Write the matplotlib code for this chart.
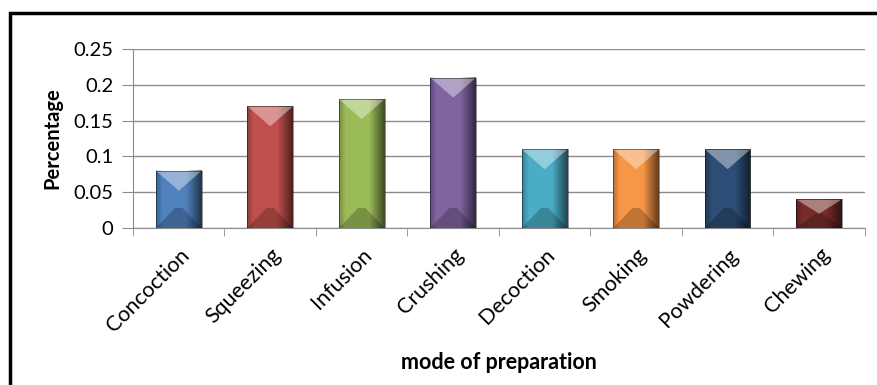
import numpy as np
import matplotlib.pyplot as plt
from matplotlib.patches import Polygon, Rectangle
from matplotlib.ticker import FixedLocator, NullFormatter

plt.rcParams['font.family'] = ['Lato', 'DejaVu Sans']

# data
methods = ['Concoction', 'Squeezing', 'Infusion', 'Crushing',
           'Decoction', 'Smoking', 'Powdering', 'Chewing']
share = [0.08, 0.17, 0.18, 0.21, 0.11, 0.11, 0.11, 0.04]
colours = ['#4F81BD', '#C0504D', '#9BBB59', '#8064A2',
           '#4BACC6', '#F79646', '#2C4D75', '#772C2A']
yticks = [0, 0.05, 0.1, 0.15, 0.2, 0.25]
ytick_labels = ['0', '0.05', '0.1', '0.15', '0.2', '0.25']

fig = plt.figure(figsize=(8.78, 3.85), dpi=100)
ax = fig.add_axes([0.1515, 0.4078, 0.8335, 0.4649])

x = np.arange(len(methods))
w = 0.5
bars = ax.bar(x, share, width=w, color=colours, zorder=3)

# fake bevel: side shading + light top wedge + dark bottom wedge
px = 0.25 / 179.0
shade = np.zeros((1, 60, 4))
prof = np.concatenate([np.linspace(0.25, 0, 9), np.zeros(30), np.linspace(0, 0.6, 21)])
shade[0, :, 3] = prof
for b, v in zip(bars, share):
    x0 = b.get_x()
    x1 = x0 + b.get_width()
    xc = (x0 + x1) / 2
    d = min(20 * px, v * 0.5)
    ax.imshow(shade, extent=(x0, x1, 0, v), aspect='auto', zorder=4,
              interpolation='bilinear')
    ax.add_patch(Polygon([(x0, v), (x1, v), (xc, v - d)], closed=True,
                         facecolor='white', alpha=0.4, lw=0, zorder=5))
    ax.add_patch(Polygon([(x0, 0), (x1, 0), (xc + 0.04, d), (xc - 0.04, d)],
                         closed=True, facecolor='black', alpha=0.22, lw=0, zorder=5))
    ax.add_patch(Rectangle((x0, 0), x1 - x0, v, fill=False, ec='black',
                           lw=0.6, alpha=0.5, zorder=6))
ax.set_xlim(-0.5, len(methods) - 0.5)
ax.set_ylim(0, 0.25)

ax.set_yticks(yticks)
ax.set_yticklabels(ytick_labels, fontsize=14.5)
ax.grid(axis='y', color='#8c8c8c', lw=1.0, zorder=0)
ax.tick_params(axis='y', length=8, color='#8c8c8c', pad=6)

ax.set_xticks(x)
ax.set_xticklabels(methods, rotation=45, ha='right', rotation_mode='anchor', fontsize=15.5)
ax.tick_params(axis='x', which='major', length=0, pad=12)
ax.xaxis.set_minor_locator(FixedLocator(np.arange(-0.5, len(methods), 1.0)))
ax.xaxis.set_minor_formatter(NullFormatter())
ax.tick_params(axis='x', which='minor', length=6, color='#8c8c8c')

for s in ['top', 'right']:
    ax.spines[s].set_visible(False)
for s in ['left', 'bottom']:
    ax.spines[s].set_color('#8c8c8c')

ax.set_ylabel('Percentage', fontsize=14.5, fontweight='bold', labelpad=8)
ax.set_xlabel('mode of preparation', fontsize=15.5, fontweight='bold', labelpad=12)

# outer chart frame (cropped on right and bottom)
fig.patches.append(Rectangle((10 / 878, -0.1), 1.2, 1 - 13 / 385 + 0.1,
                             transform=fig.transFigure, fill=False,
                             ec='black', lw=2.5))

fig.savefig('out.png', dpi=100)
